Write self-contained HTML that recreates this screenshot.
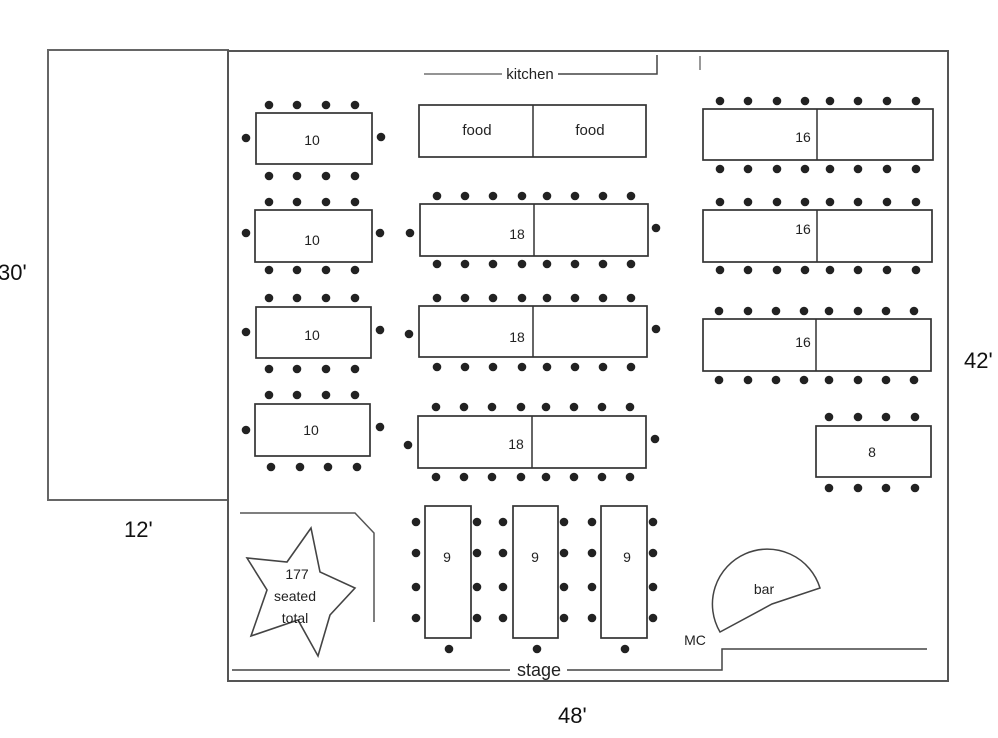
<!DOCTYPE html>
<html>
<head>
<meta charset="utf-8">
<style>
html,body{margin:0;padding:0;background:#fff;}
svg{display:block;}
.dim{font-family:"Liberation Sans",Arial,sans-serif;font-size:22px;fill:#111;}
.lbl{font-family:"Liberation Sans",Arial,sans-serif;font-size:14px;fill:#222;}
.t{fill:#fff;stroke:#333;stroke-width:1.7;}
.s{fill:#222;}
</style>
</head>
<body>
<svg width="998" height="738" viewBox="0 0 998 738" xmlns="http://www.w3.org/2000/svg">
<rect x="0" y="0" width="998" height="738" fill="#fff"/>
<!-- outer rooms -->
<rect x="48" y="50" width="180" height="450" fill="none" stroke="#666" stroke-width="2"/>
<rect x="228" y="51" width="720" height="630" fill="none" stroke="#555" stroke-width="2"/>

<!-- dimensions -->
<text class="dim" x="-2" y="280">30'</text>
<text class="dim" x="124" y="537">12'</text>
<text class="dim" x="964" y="368">42'</text>
<text class="dim" x="558" y="723">48'</text>

<!-- kitchen -->
<line x1="424" y1="74" x2="502" y2="74" stroke="#555" stroke-width="1.3"/>
<text class="lbl" x="530" y="79" text-anchor="middle" style="font-size:15px">kitchen</text>
<polyline points="558,74 657,74 657,55" fill="none" stroke="#444" stroke-width="1.5"/>
<line x1="700" y1="56" x2="700" y2="70" stroke="#777" stroke-width="1.5"/>

<!-- 10 tables -->
<rect class="t" x="256" y="113" width="116" height="51"/>
<text class="lbl" x="312" y="145" text-anchor="middle">10</text>
<g class="s">
<circle cx="269" cy="105" r="4.3"/><circle cx="297" cy="105" r="4.3"/><circle cx="326" cy="105" r="4.3"/><circle cx="355" cy="105" r="4.3"/>
<circle cx="269" cy="176" r="4.3"/><circle cx="297" cy="176" r="4.3"/><circle cx="326" cy="176" r="4.3"/><circle cx="355" cy="176" r="4.3"/>
<circle cx="246" cy="138" r="4.3"/><circle cx="381" cy="137" r="4.3"/>
</g>

<rect class="t" x="255" y="210" width="117" height="52"/>
<text class="lbl" x="312" y="245" text-anchor="middle">10</text>
<g class="s">
<circle cx="269" cy="202" r="4.3"/><circle cx="297" cy="202" r="4.3"/><circle cx="326" cy="202" r="4.3"/><circle cx="355" cy="202" r="4.3"/>
<circle cx="269" cy="270" r="4.3"/><circle cx="297" cy="270" r="4.3"/><circle cx="326" cy="270" r="4.3"/><circle cx="355" cy="270" r="4.3"/>
<circle cx="246" cy="233" r="4.3"/><circle cx="380" cy="233" r="4.3"/>
</g>

<rect class="t" x="256" y="307" width="115" height="51"/>
<text class="lbl" x="312" y="340" text-anchor="middle">10</text>
<g class="s">
<circle cx="269" cy="298" r="4.3"/><circle cx="297" cy="298" r="4.3"/><circle cx="326" cy="298" r="4.3"/><circle cx="355" cy="298" r="4.3"/>
<circle cx="269" cy="369" r="4.3"/><circle cx="297" cy="369" r="4.3"/><circle cx="326" cy="369" r="4.3"/><circle cx="355" cy="369" r="4.3"/>
<circle cx="246" cy="332" r="4.3"/><circle cx="380" cy="330" r="4.3"/>
</g>

<rect class="t" x="255" y="404" width="115" height="52"/>
<text class="lbl" x="311" y="435" text-anchor="middle">10</text>
<g class="s">
<circle cx="269" cy="395" r="4.3"/><circle cx="297" cy="395" r="4.3"/><circle cx="326" cy="395" r="4.3"/><circle cx="355" cy="395" r="4.3"/>
<circle cx="271" cy="467" r="4.3"/><circle cx="300" cy="467" r="4.3"/><circle cx="328" cy="467" r="4.3"/><circle cx="357" cy="467" r="4.3"/>
<circle cx="246" cy="430" r="4.3"/><circle cx="380" cy="427" r="4.3"/>
</g>

<!-- food -->
<rect class="t" x="419" y="105" width="227" height="52"/>
<line x1="533" y1="105" x2="533" y2="157" stroke="#333" stroke-width="1.5"/>
<text class="lbl" x="477" y="135" text-anchor="middle" style="font-size:15px">food</text>
<text class="lbl" x="590" y="135" text-anchor="middle" style="font-size:15px">food</text>

<!-- 18 tables -->
<rect class="t" x="420" y="204" width="228" height="52"/>
<line x1="534" y1="204" x2="534" y2="256" stroke="#333" stroke-width="1.5"/>
<text class="lbl" x="517" y="239" text-anchor="middle">18</text>
<g class="s">
<circle cx="437" cy="196" r="4.3"/><circle cx="465" cy="196" r="4.3"/><circle cx="493" cy="196" r="4.3"/><circle cx="522" cy="196" r="4.3"/><circle cx="547" cy="196" r="4.3"/><circle cx="575" cy="196" r="4.3"/><circle cx="603" cy="196" r="4.3"/><circle cx="631" cy="196" r="4.3"/>
<circle cx="437" cy="264" r="4.3"/><circle cx="465" cy="264" r="4.3"/><circle cx="493" cy="264" r="4.3"/><circle cx="522" cy="264" r="4.3"/><circle cx="547" cy="264" r="4.3"/><circle cx="575" cy="264" r="4.3"/><circle cx="603" cy="264" r="4.3"/><circle cx="631" cy="264" r="4.3"/>
<circle cx="410" cy="233" r="4.3"/><circle cx="656" cy="228" r="4.3"/>
</g>

<rect class="t" x="419" y="306" width="228" height="51"/>
<line x1="533" y1="306" x2="533" y2="357" stroke="#333" stroke-width="1.5"/>
<text class="lbl" x="517" y="342" text-anchor="middle">18</text>
<g class="s">
<circle cx="437" cy="298" r="4.3"/><circle cx="465" cy="298" r="4.3"/><circle cx="493" cy="298" r="4.3"/><circle cx="522" cy="298" r="4.3"/><circle cx="547" cy="298" r="4.3"/><circle cx="575" cy="298" r="4.3"/><circle cx="603" cy="298" r="4.3"/><circle cx="631" cy="298" r="4.3"/>
<circle cx="437" cy="367" r="4.3"/><circle cx="465" cy="367" r="4.3"/><circle cx="493" cy="367" r="4.3"/><circle cx="522" cy="367" r="4.3"/><circle cx="547" cy="367" r="4.3"/><circle cx="575" cy="367" r="4.3"/><circle cx="603" cy="367" r="4.3"/><circle cx="631" cy="367" r="4.3"/>
<circle cx="409" cy="334" r="4.3"/><circle cx="656" cy="329" r="4.3"/>
</g>

<rect class="t" x="418" y="416" width="228" height="52"/>
<line x1="532" y1="416" x2="532" y2="468" stroke="#333" stroke-width="1.5"/>
<text class="lbl" x="516" y="449" text-anchor="middle">18</text>
<g class="s">
<circle cx="436" cy="407" r="4.3"/><circle cx="464" cy="407" r="4.3"/><circle cx="492" cy="407" r="4.3"/><circle cx="521" cy="407" r="4.3"/><circle cx="546" cy="407" r="4.3"/><circle cx="574" cy="407" r="4.3"/><circle cx="602" cy="407" r="4.3"/><circle cx="630" cy="407" r="4.3"/>
<circle cx="436" cy="477" r="4.3"/><circle cx="464" cy="477" r="4.3"/><circle cx="492" cy="477" r="4.3"/><circle cx="521" cy="477" r="4.3"/><circle cx="546" cy="477" r="4.3"/><circle cx="574" cy="477" r="4.3"/><circle cx="602" cy="477" r="4.3"/><circle cx="630" cy="477" r="4.3"/>
<circle cx="408" cy="445" r="4.3"/><circle cx="655" cy="439" r="4.3"/>
</g>

<!-- 16 tables -->
<rect class="t" x="703" y="109" width="230" height="51"/>
<line x1="817" y1="109" x2="817" y2="160" stroke="#333" stroke-width="1.5"/>
<text class="lbl" x="803" y="142" text-anchor="middle">16</text>
<g class="s">
<circle cx="720" cy="101" r="4.3"/><circle cx="748" cy="101" r="4.3"/><circle cx="777" cy="101" r="4.3"/><circle cx="805" cy="101" r="4.3"/><circle cx="830" cy="101" r="4.3"/><circle cx="858" cy="101" r="4.3"/><circle cx="887" cy="101" r="4.3"/><circle cx="916" cy="101" r="4.3"/>
<circle cx="720" cy="169" r="4.3"/><circle cx="748" cy="169" r="4.3"/><circle cx="777" cy="169" r="4.3"/><circle cx="805" cy="169" r="4.3"/><circle cx="830" cy="169" r="4.3"/><circle cx="858" cy="169" r="4.3"/><circle cx="887" cy="169" r="4.3"/><circle cx="916" cy="169" r="4.3"/>
</g>

<rect class="t" x="703" y="210" width="229" height="52"/>
<line x1="817" y1="210" x2="817" y2="262" stroke="#333" stroke-width="1.5"/>
<text class="lbl" x="803" y="234" text-anchor="middle">16</text>
<g class="s">
<circle cx="720" cy="202" r="4.3"/><circle cx="748" cy="202" r="4.3"/><circle cx="777" cy="202" r="4.3"/><circle cx="805" cy="202" r="4.3"/><circle cx="830" cy="202" r="4.3"/><circle cx="858" cy="202" r="4.3"/><circle cx="887" cy="202" r="4.3"/><circle cx="916" cy="202" r="4.3"/>
<circle cx="720" cy="270" r="4.3"/><circle cx="748" cy="270" r="4.3"/><circle cx="777" cy="270" r="4.3"/><circle cx="805" cy="270" r="4.3"/><circle cx="830" cy="270" r="4.3"/><circle cx="858" cy="270" r="4.3"/><circle cx="887" cy="270" r="4.3"/><circle cx="916" cy="270" r="4.3"/>
</g>

<rect class="t" x="703" y="319" width="228" height="52"/>
<line x1="816" y1="319" x2="816" y2="371" stroke="#333" stroke-width="1.5"/>
<text class="lbl" x="803" y="347" text-anchor="middle">16</text>
<g class="s">
<circle cx="719" cy="311" r="4.3"/><circle cx="748" cy="311" r="4.3"/><circle cx="776" cy="311" r="4.3"/><circle cx="804" cy="311" r="4.3"/><circle cx="829" cy="311" r="4.3"/><circle cx="858" cy="311" r="4.3"/><circle cx="886" cy="311" r="4.3"/><circle cx="914" cy="311" r="4.3"/>
<circle cx="719" cy="380" r="4.3"/><circle cx="748" cy="380" r="4.3"/><circle cx="776" cy="380" r="4.3"/><circle cx="804" cy="380" r="4.3"/><circle cx="829" cy="380" r="4.3"/><circle cx="858" cy="380" r="4.3"/><circle cx="886" cy="380" r="4.3"/><circle cx="914" cy="380" r="4.3"/>
</g>

<!-- 8 table -->
<rect class="t" x="816" y="426" width="115" height="51"/>
<text class="lbl" x="872" y="457" text-anchor="middle">8</text>
<g class="s">
<circle cx="829" cy="417" r="4.3"/><circle cx="858" cy="417" r="4.3"/><circle cx="886" cy="417" r="4.3"/><circle cx="915" cy="417" r="4.3"/>
<circle cx="829" cy="488" r="4.3"/><circle cx="858" cy="488" r="4.3"/><circle cx="886" cy="488" r="4.3"/><circle cx="915" cy="488" r="4.3"/>
</g>

<!-- 9 tables -->
<rect class="t" x="425" y="506" width="46" height="132"/>
<text class="lbl" x="447" y="562" text-anchor="middle">9</text>
<rect class="t" x="513" y="506" width="45" height="132"/>
<text class="lbl" x="535" y="562" text-anchor="middle">9</text>
<rect class="t" x="601" y="506" width="46" height="132"/>
<text class="lbl" x="627" y="562" text-anchor="middle">9</text>
<g class="s">
<circle cx="416" cy="522" r="4.3"/><circle cx="416" cy="553" r="4.3"/><circle cx="416" cy="587" r="4.3"/><circle cx="416" cy="618" r="4.3"/>
<circle cx="477" cy="522" r="4.3"/><circle cx="477" cy="553" r="4.3"/><circle cx="477" cy="587" r="4.3"/><circle cx="477" cy="618" r="4.3"/>
<circle cx="503" cy="522" r="4.3"/><circle cx="503" cy="553" r="4.3"/><circle cx="503" cy="587" r="4.3"/><circle cx="503" cy="618" r="4.3"/>
<circle cx="564" cy="522" r="4.3"/><circle cx="564" cy="553" r="4.3"/><circle cx="564" cy="587" r="4.3"/><circle cx="564" cy="618" r="4.3"/>
<circle cx="592" cy="522" r="4.3"/><circle cx="592" cy="553" r="4.3"/><circle cx="592" cy="587" r="4.3"/><circle cx="592" cy="618" r="4.3"/>
<circle cx="653" cy="522" r="4.3"/><circle cx="653" cy="553" r="4.3"/><circle cx="653" cy="587" r="4.3"/><circle cx="653" cy="618" r="4.3"/>
<circle cx="449" cy="649" r="4.3"/><circle cx="537" cy="649" r="4.3"/><circle cx="625" cy="649" r="4.3"/>
</g>

<!-- bracket near star -->
<polyline points="240,513 355,513 374,533 374,622" fill="none" stroke="#555" stroke-width="1.5"/>

<!-- star -->
<polygon points="311,528 320,572 355,588 330,615 318,656 298,620 251,636 267,590 247,558 287,562" fill="#fff" stroke="#444" stroke-width="1.6" stroke-linejoin="miter"/>
<text class="lbl" x="297" y="579" text-anchor="middle">177</text>
<text class="lbl" x="295" y="601" text-anchor="middle">seated</text>
<text class="lbl" x="295" y="623" text-anchor="middle">total</text>

<!-- bar -->
<path d="M720,632 A55,55 0 1 1 820,588 L772,604 Z" fill="#fff" stroke="#444" stroke-width="1.5"/>
<text class="lbl" x="764" y="594" text-anchor="middle">bar</text>
<text class="lbl" x="695" y="645" text-anchor="middle">MC</text>

<!-- stage -->
<line x1="232" y1="670" x2="510" y2="670" stroke="#444" stroke-width="1.5"/>
<text class="lbl" x="539" y="676" text-anchor="middle" style="font-size:18px">stage</text>
<polyline points="567,670 722,670 722,649 927,649" fill="none" stroke="#444" stroke-width="1.5"/>
</svg>
</body>
</html>
